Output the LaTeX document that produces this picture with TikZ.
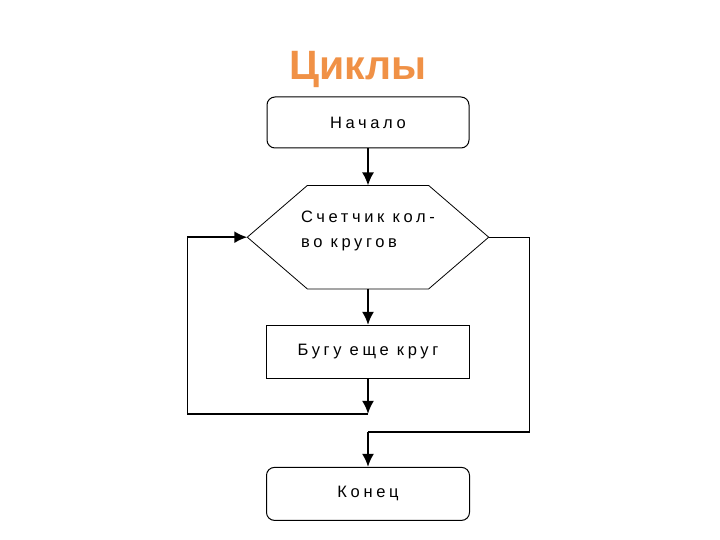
\documentclass[tikz,border=0pt]{standalone}
\usepackage{fontspec}
\setmainfont{Liberation Sans}
\newfontfamily\flowfont[LetterSpace=22.0]{Liberation Sans}
\usepackage{tikz}
\usetikzlibrary{arrows.meta, positioning, calc}
\definecolor{titleorange}{RGB}{240,145,70}

\begin{document}
\begin{tikzpicture}[x=1pt, y=-1pt, font=\flowfont\fontsize{16.5}{25}\selectfont,
  termbox/.style={draw, line width=1pt, rounded corners=8pt, minimum width=202pt, minimum height=51pt},
  procbox/.style={draw, line width=1pt, minimum width=203pt, minimum height=53pt},
  hexbox/.style={minimum width=241pt, minimum height=103pt},
  flow/.style={line width=2pt, -{Latex[length=13pt,width=12pt]}},
  backline/.style={line width=1.3pt}]
\useasboundingbox (0,0) rectangle (720,540);
\node[font=\bfseries\fontsize{41}{48}\selectfont, text=titleorange, anchor=base] (title) at (358,80) {Циклы};
\node[termbox] (start) at (368,122.5) {Начало};
\node[hexbox, below=37pt of start] (hex) {};
\draw[line width=0.8pt] (hex.west) -- ([xshift=60pt]hex.north west) -- ([xshift=-60pt]hex.north east) -- (hex.east)
  -- ([xshift=-60pt]hex.south east) -- ([xshift=60pt]hex.south west) -- cycle;
\node[align=left, yshift=6pt] (hexlabel) at (hex) {Счетчик кол-\\во кругов};
\node[procbox, below=36pt of hex] (body) {Бугу еще круг};
\node[termbox, minimum width=203pt, minimum height=53pt, below=88pt of body] (finish) {Конец};
% loop back
\coordinate (loopin) at ($(body.south)+(0,35)$);
\coordinate (loopcorner) at ($(hex.west)+(-60,0)$);
\coordinate (exitin) at ($(finish.north)+(0,-35)$);
\draw[flow] (start) -- (hex);
\draw[flow] (hex) -- (body);
\draw[flow] (body) -- (loopin);
\draw[backline] (loopin) -| (loopcorner);
\draw[flow] (loopcorner) -- (hex.west);
% exit
\draw[backline] (hex.east) -- ++(41,0) |- (exitin);
\draw[flow] (exitin) -- (finish);
\end{tikzpicture}
\end{document}
